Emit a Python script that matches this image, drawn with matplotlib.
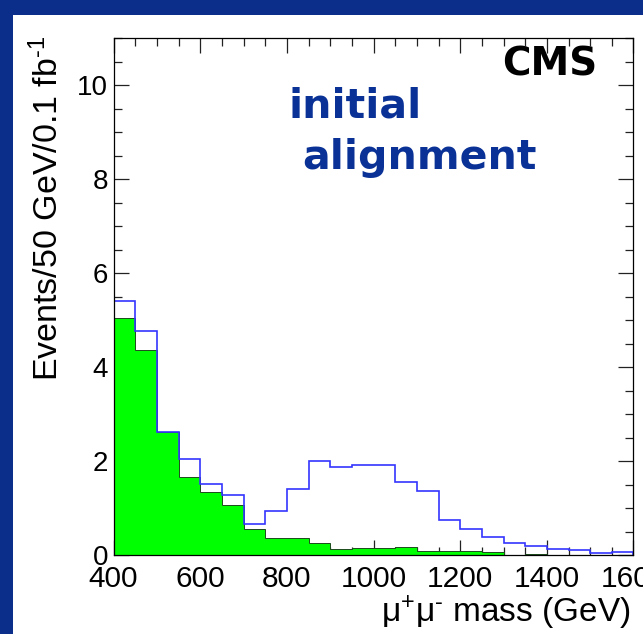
import numpy as np
import matplotlib
matplotlib.use("Agg")
import matplotlib.pyplot as plt
from matplotlib.patches import Rectangle
from matplotlib.ticker import MultipleLocator

plt.rcParams['font.family'] = ['Liberation Sans', 'DejaVu Sans']
plt.rcParams['mathtext.fontset'] = 'custom'
plt.rcParams['mathtext.rm'] = 'Liberation Sans'
plt.rcParams['mathtext.it'] = 'Liberation Sans:italic'

# dimuon mass bins, 50 GeV wide
mass_edges = np.arange(400, 1601, 50)

# Drell-Yan background (filled) and Z' signal + background with initial alignment
background = [5.05, 4.37, 2.62, 1.66, 1.35, 1.06, 0.55, 0.37, 0.36, 0.25,
              0.13, 0.15, 0.15, 0.17, 0.09, 0.09, 0.08, 0.06, 0.0, 0.03,
              0.01, 0.0, 0.0, 0.0]
signal_plus_bkg = [5.40, 4.77, 2.62, 2.05, 1.51, 1.28, 0.67, 0.94, 1.41, 2.00,
                   1.88, 1.91, 1.91, 1.55, 1.36, 0.75, 0.56, 0.38, 0.26, 0.19,
                   0.13, 0.11, 0.05, 0.06]

fig = plt.figure(figsize=(6.43, 6.34), dpi=100)
fig.patch.set_facecolor('#0b2e8a')
fig.add_artist(Rectangle((12.7 / 643, 0), 1, (634 - 15) / 634,
                         transform=fig.transFigure, facecolor='white',
                         edgecolor='none', zorder=0))

ax = fig.add_axes([0.1767, 0.1246, 0.8085, 0.8148])
ax.set_facecolor('white')

ax.stairs(background, mass_edges, fill=True, facecolor='#00ff00',
          edgecolor='#1c4a1c', linewidth=0.7, zorder=2)
ax.stairs(signal_plus_bkg, mass_edges, color='#3535ff', linewidth=1.2, zorder=3)

ax.set_xlim(400, 1600)
ax.set_ylim(0, 11)
ax.xaxis.set_major_locator(MultipleLocator(200))
ax.xaxis.set_minor_locator(MultipleLocator(50))
ax.yaxis.set_major_locator(MultipleLocator(2))
ax.yaxis.set_minor_locator(MultipleLocator(0.5))

ax.tick_params(which='both', direction='in', top=True, right=True,
               color='#222222', width=0.9)
ax.tick_params(which='major', length=10.5)
ax.tick_params(which='minor', length=5.5)
ax.tick_params(axis='x', labelsize=21.5, pad=7.5)
ax.tick_params(axis='y', labelsize=20, pad=4)
for spine in ax.spines.values():
    spine.set_linewidth(0.9)
    spine.set_zorder(4)

fig.text(48 / 643, 1 - 36 / 634, r'Events/50 GeV/0.1 fb$^{\text{-}1}$',
         rotation=90, ha='center', va='top', fontsize=24.5)
fig.text(631 / 643, 1 - 622 / 634, r'μ$^{+}$μ$^{\text{-}}$ mass (GeV)',
         ha='right', va='baseline', fontsize=24)

ax.text(0.93, 0.929, 'CMS', transform=ax.transAxes, ha='right',
        va='baseline', fontsize=28, fontweight='bold', family='DejaVu Sans')
ax.text(0.3355, 0.846, 'initial', transform=ax.transAxes, ha='left',
        va='baseline', fontsize=29.5, fontweight='bold', color='#0a3296',
        family='DejaVu Sans')
ax.text(0.3624, 0.747, 'alignment', transform=ax.transAxes, ha='left',
        va='baseline', fontsize=29.5, fontweight='bold', color='#0a3296',
        family='DejaVu Sans')

fig.savefig('out.png', dpi=100, facecolor=fig.get_facecolor())
